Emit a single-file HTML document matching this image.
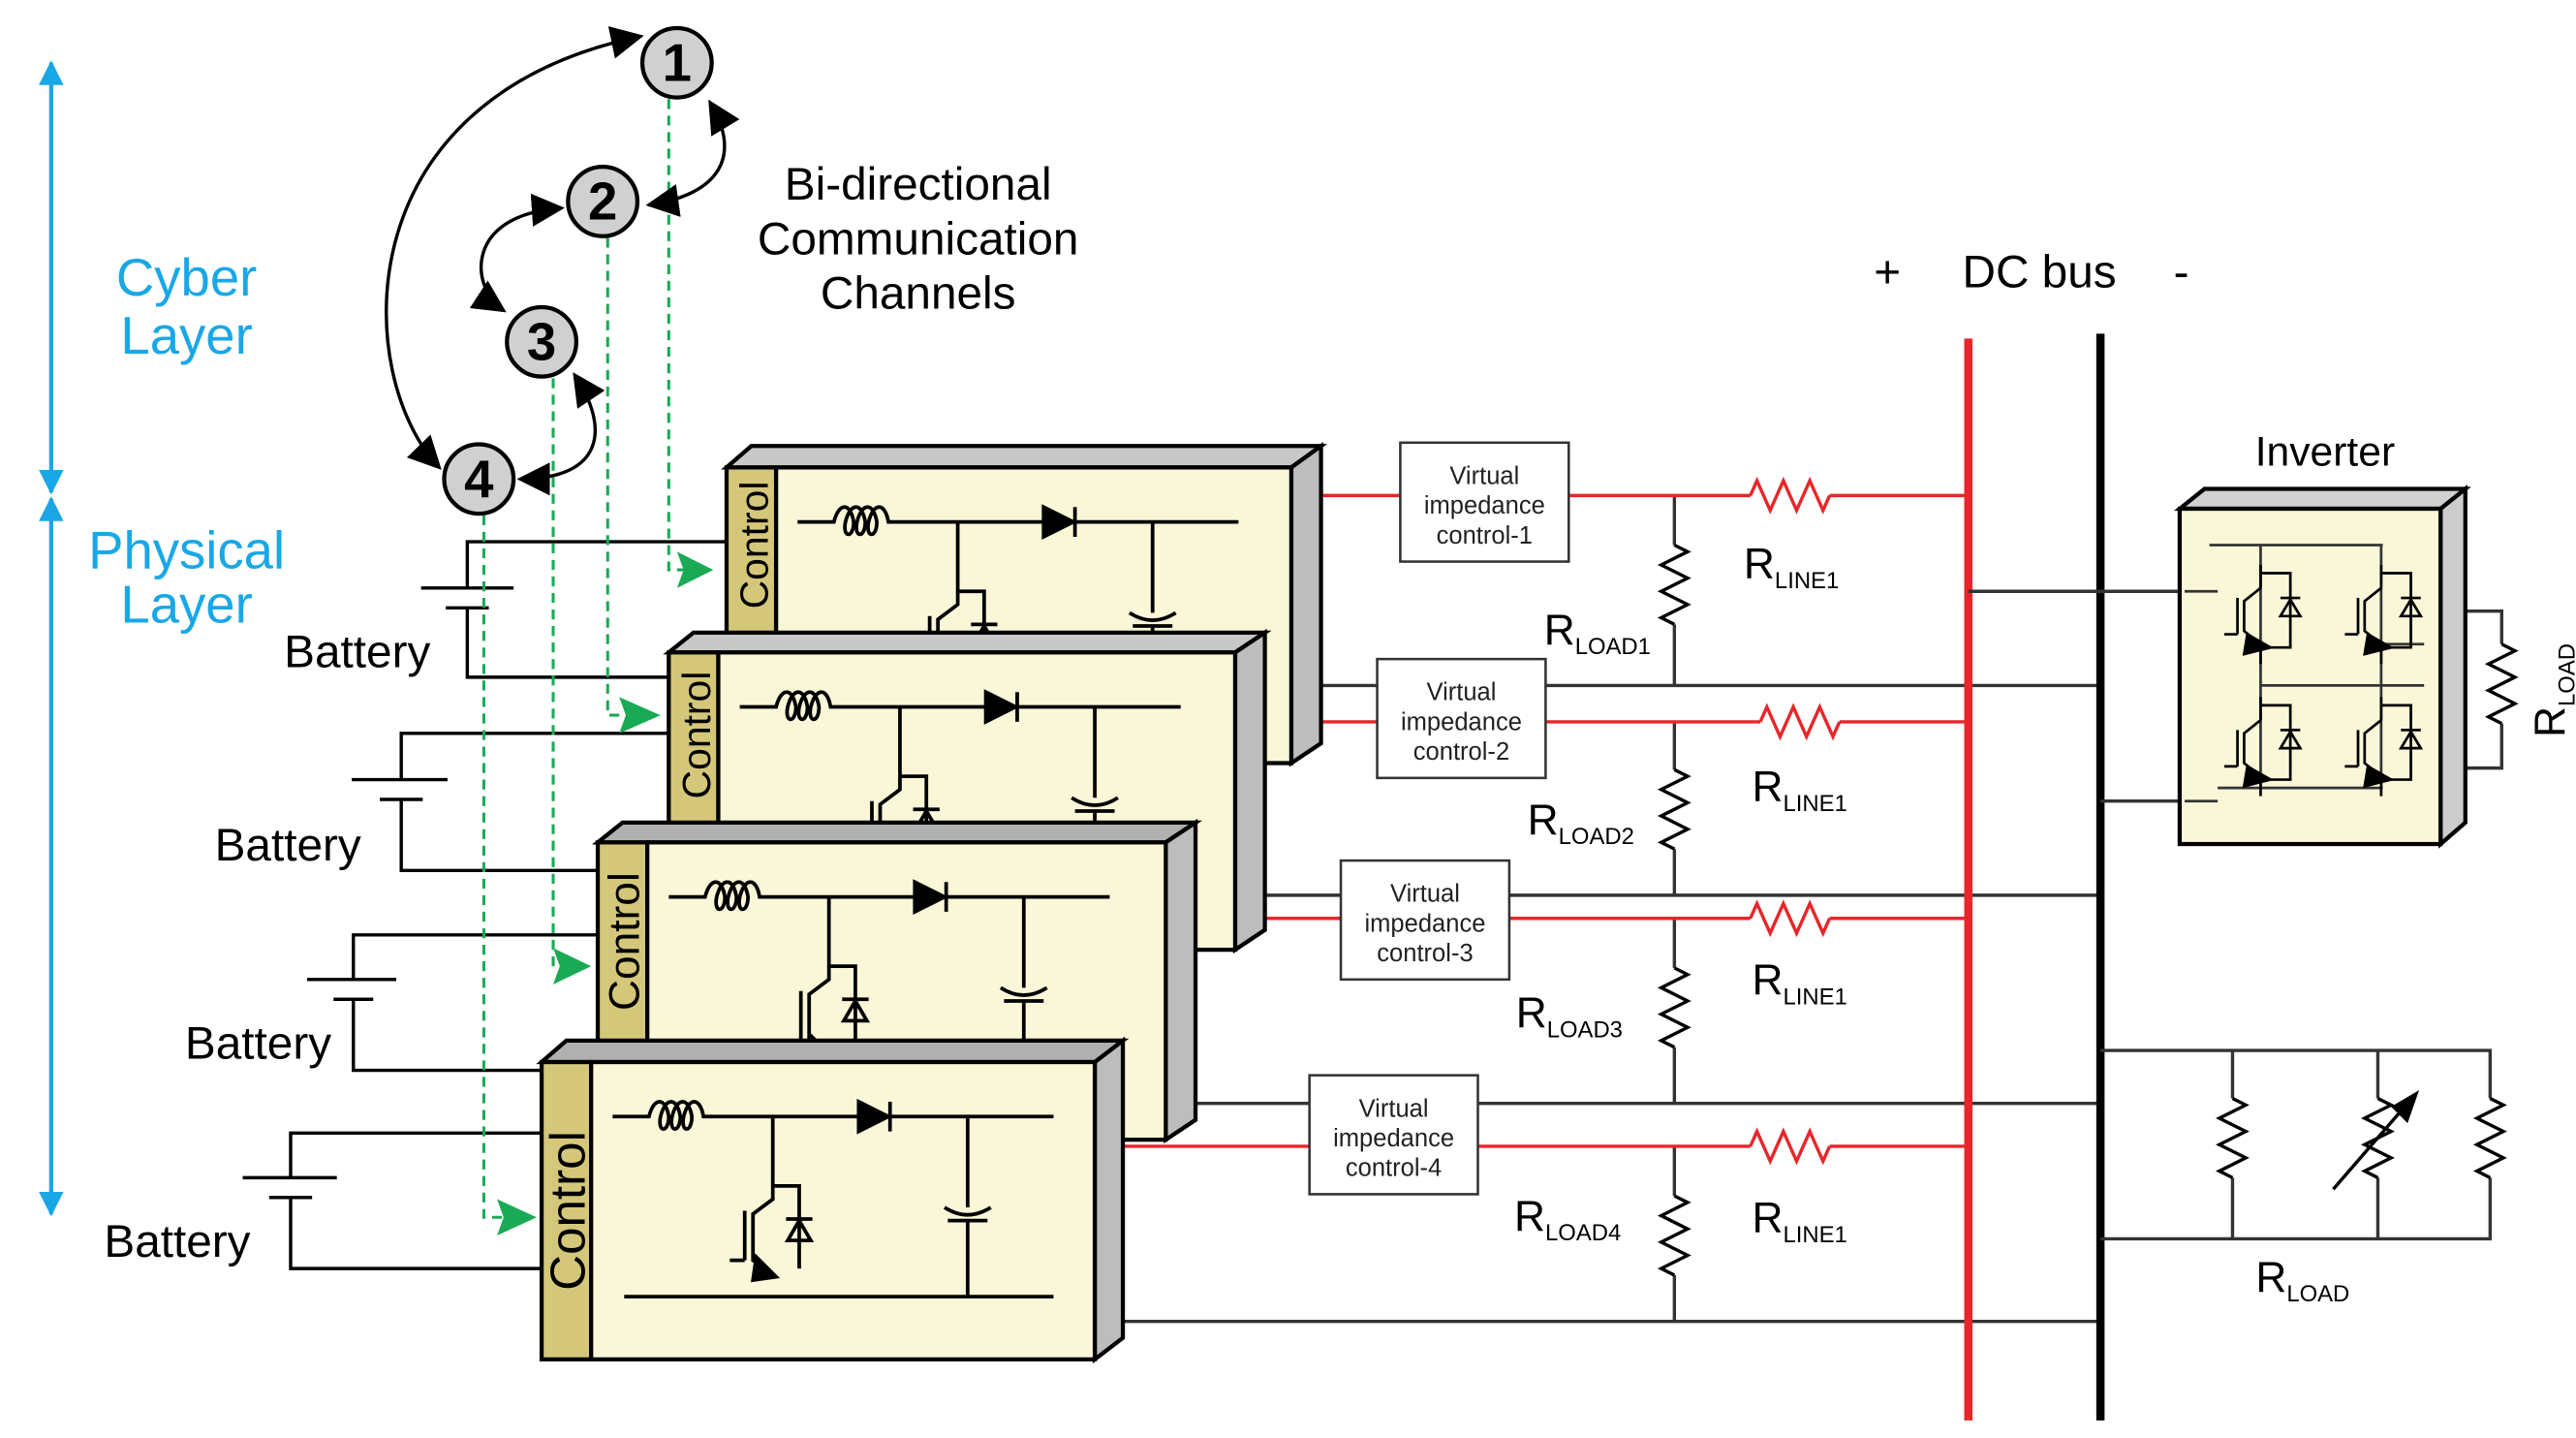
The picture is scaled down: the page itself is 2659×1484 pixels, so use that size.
<!DOCTYPE html>
<html><head><meta charset="utf-8"><style>
html,body{margin:0;padding:0;background:#fff;}
svg{display:block;}
text{font-family:"Liberation Sans",sans-serif;}
</style></head><body>
<svg width="2659" height="1484" viewBox="0 0 1560 870.6" preserveAspectRatio="none" xmlns="http://www.w3.org/2000/svg">
<defs>
<marker id="ah" viewBox="0 0 10 10" refX="9" refY="5" markerWidth="10" markerHeight="10" orient="auto-start-reverse"><path d="M0,0 L10,5 L0,10 z" fill="#000"/></marker>
<marker id="ab" viewBox="0 0 10 10" refX="9" refY="5" markerWidth="6" markerHeight="6" orient="auto-start-reverse"><path d="M0,0 L10,5 L0,10 z" fill="#1aa7e6"/></marker>
<g id="circ" fill="none" stroke="#000" stroke-width="2.2">
  <path d="M13 33 H35 c3,-12 10,-12 12,0 c0,10 -7,10 -5,0 c3,-12 10,-12 12,0 c0,10 -7,10 -5,0 c3,-12 10,-12 12,0 c0,10 -7,10 -5,0 c3,-12 10,-12 12,0 H162"/>
  <path d="M162 24 L180 33 L162 42 z" fill="#000"/>
  <path d="M181 24 V42 M181 33 H280"/>
  <path d="M110 33 V75 H126 V125 M110 75 V83 L98 92 V120 L110 128 M93 90 V120 M84 120 H93"/>
  <path d="M100 118 L112 130 L98 132 z" fill="#000"/>
  <path d="M118 95 H134 M119 108 L126 96 L133 108 z"/>
  <path d="M228 33 V88 M216 96 H240 M214 88 Q228 97 242 88 M228 96 V142 M20 142 H280"/>
</g>
<path id="zv" d="M0 0 l8 4 l-16 8 l16 8 l-16 8 l16 8 l-16 8 l8 4" fill="none" stroke="#000" stroke-width="2"/>
<path id="zh" d="M0 0 l4 -9 l8 18 l8 -18 l8 18 l8 -18 l8 18 l4 -9" fill="none" stroke="#e8262a" stroke-width="2"/>
<g id="ig" fill="none" stroke="#000" stroke-width="1.6">
  <path d="M20 0 V14 M20 14 L10 22 V40 L20 48 V60 M6 20 V42 M-2 42 H6 M20 5 H38 V50 H20"/>
  <path d="M32 20 H44 M32 31 L38 21 L44 31 z"/>
  <path d="M12 42 L26 50 L10 54 z" fill="#000"/>
</g>
</defs>

<line x1="31" y1="38" x2="31" y2="298" stroke="#1aa7e6" stroke-width="2.5" marker-start="url(#ab)" marker-end="url(#ab)"/>
<line x1="31" y1="302" x2="31" y2="735" stroke="#1aa7e6" stroke-width="2.5" marker-start="url(#ab)" marker-end="url(#ab)"/>
<text x="113" y="179" font-size="32" fill="#1aa7e6" text-anchor="middle">Cyber</text>
<text x="113" y="214" font-size="32" fill="#1aa7e6" text-anchor="middle">Layer</text>
<text x="113" y="344" font-size="32" fill="#1aa7e6" text-anchor="middle">Physical</text>
<text x="113" y="377" font-size="32" fill="#1aa7e6" text-anchor="middle">Layer</text>

<text x="556" y="121" font-size="28" text-anchor="middle">Bi-directional</text>
<text x="556" y="154" font-size="28" text-anchor="middle">Communication</text>
<text x="556" y="187" font-size="28" text-anchor="middle">Channels</text>

<g fill="none" stroke="#000" stroke-width="2">
<path d="M283 356 V328 H440 M255 356 H311 M270 368 H296 M283 368 V410 H405"/>
<path d="M243 472 V444 H405 M213 472 H271 M230 484 H256 M243 484 V527 H362"/>
<path d="M214 593 V566 H362 M186 593 H240 M202 605 H226 M214 605 V648 H328"/>
<path d="M176 713 V686 H328 M147 713 H204 M163 725 H189 M176 725 V768 H328"/>
</g>
<text x="172" y="404" font-size="28">Battery</text>
<text x="130" y="521" font-size="28">Battery</text>
<text x="112" y="641" font-size="28">Battery</text>
<text x="63" y="761" font-size="28">Battery</text>

<g stroke="#333" stroke-width="2" fill="none">
<path d="M790 415 H1272 M760 542 H1272 M720 668 H1272 M675 800 H1272"/>
<path d="M1014 300 V330 M1014 378 V415 M1014 437 V466 M1014 514 V542 M1014 556 V586 M1014 634 V668 M1014 694 V724 M1014 772 V800"/>
</g>
<use href="#zv" x="1014" y="330"/><use href="#zv" x="1014" y="466"/><use href="#zv" x="1014" y="586"/><use href="#zv" x="1014" y="724"/>
<g stroke="#e8262a" stroke-width="2" fill="none">
<path d="M790 300 H848 M950 300 H1060 M1108 300 H1192"/>
<path d="M760 437 H834 M936 437 H1066 M1114 437 H1192"/>
<path d="M720 556 H812 M914 556 H1060 M1108 556 H1192"/>
<path d="M675 694 H793 M895 694 H1060 M1108 694 H1192"/>
</g>
<use href="#zh" x="1060" y="300"/><use href="#zh" x="1066" y="437"/><use href="#zh" x="1060" y="556"/><use href="#zh" x="1060" y="694"/>

<g stroke="#000" stroke-width="2.5">
 <g>
  <path d="M440 283 L455 270 H800 L782 283 z" fill="#c8c8c8"/>
  <path d="M782 283 L800 270 V450 L782 462 z" fill="#bdbdbd"/>
  <rect x="440" y="283" width="30" height="179" fill="#d4c77a"/>
  <rect x="470" y="283" width="312" height="179" fill="#faf6d8"/>
  <use href="#circ" x="470" y="283"/>
 </g>
 <g>
  <path d="M405 395 L420 383 H766 L748 395 z" fill="#c8c8c8"/>
  <path d="M748 395 L766 383 V563 L748 575 z" fill="#bdbdbd"/>
  <rect x="405" y="395" width="30" height="180" fill="#d4c77a"/>
  <rect x="435" y="395" width="313" height="180" fill="#faf6d8"/>
  <use href="#circ" x="435" y="395"/>
 </g>
 <g>
  <path d="M362 510 L377 498 H724 L706 510 z" fill="#b0b0b0"/>
  <path d="M706 510 L724 498 V678 L706 690 z" fill="#bdbdbd"/>
  <rect x="362" y="510" width="30" height="180" fill="#d4c77a"/>
  <rect x="392" y="510" width="314" height="180" fill="#faf6d8"/>
  <use href="#circ" x="392" y="510"/>
 </g>
 <g>
  <path d="M328 643 L343 630 H680 L663 643 z" fill="#b0b0b0"/>
  <path d="M663 643 L680 630 V810 L663 823 z" fill="#bdbdbd"/>
  <rect x="328" y="643" width="30" height="180" fill="#d4c77a"/>
  <rect x="358" y="643" width="305" height="180" fill="#faf6d8"/>
  <use href="#circ" x="358" y="643"/>
 </g>
</g>
<text transform="translate(465,330) rotate(-90)" font-size="24" text-anchor="middle">Control</text>
<text transform="translate(430,445) rotate(-90)" font-size="24" text-anchor="middle">Control</text>
<text transform="translate(387,570) rotate(-90)" font-size="26" text-anchor="middle">Control</text>
<text transform="translate(354,733) rotate(-90)" font-size="30" text-anchor="middle">Control</text>

<g stroke="#1aaa55" stroke-width="1.8" fill="none" stroke-dasharray="6,4">
<path d="M405 60 V345 H420"/><path d="M368 144 V433 H385"/><path d="M335 229 V585 H343"/><path d="M293 312 V737 H305"/>
</g>
<g fill="#1aaa55">
<path d="M410 334 L432 345 L410 356 L414 345 z"/><path d="M375 422 L400 433 L375 444 L379 433 z"/>
<path d="M335 574 L358 585 L335 596 L339 585 z"/><path d="M301 726 L325 737 L301 748 L305 737 z"/>
</g>

<g fill="none" stroke="#000" stroke-width="2">
<path d="M266 283 C215 230 205 60 388 22" marker-start="url(#ah)" marker-end="url(#ah)"/>
<path d="M430 62 C450 95 435 118 393 124" marker-start="url(#ah)" marker-end="url(#ah)"/>
<path d="M340 126 C280 130 285 175 305 188" marker-start="url(#ah)" marker-end="url(#ah)"/>
<path d="M348 227 C370 260 365 290 315 290" marker-start="url(#ah)" marker-end="url(#ah)"/>
</g>
<g stroke="#000" stroke-width="2.5" fill="#d0d0d0">
<circle cx="410" cy="38" r="21"/><circle cx="365" cy="122" r="21"/><circle cx="328" cy="207" r="21"/><circle cx="290" cy="290" r="21"/>
</g>
<g font-size="32" font-weight="bold" text-anchor="middle">
<text x="410" y="49">1</text><text x="365" y="133">2</text><text x="328" y="218">3</text><text x="290" y="301">4</text>
</g>

<g fill="#fff" stroke="#333" stroke-width="1.5">
<rect x="848" y="268" width="102" height="72"/><rect x="834" y="399" width="102" height="72"/>
<rect x="812" y="521" width="102" height="72"/><rect x="793" y="651" width="102" height="72"/>
</g>
<g font-size="15" text-anchor="middle" fill="#222">
<text x="899" y="293">Virtual</text><text x="899" y="311">impedance</text><text x="899" y="329">control-1</text>
<text x="885" y="424">Virtual</text><text x="885" y="442">impedance</text><text x="885" y="460">control-2</text>
<text x="863" y="546">Virtual</text><text x="863" y="564">impedance</text><text x="863" y="582">control-3</text>
<text x="844" y="676">Virtual</text><text x="844" y="694">impedance</text><text x="844" y="712">control-4</text>
</g>

<g font-size="26">
<text x="935" y="390">R<tspan font-size="14" dy="6">LOAD1</tspan></text>
<text x="925" y="505">R<tspan font-size="14" dy="6">LOAD2</tspan></text>
<text x="918" y="622">R<tspan font-size="14" dy="6">LOAD3</tspan></text>
<text x="917" y="745">R<tspan font-size="14" dy="6">LOAD4</tspan></text>
<text x="1056" y="350">R<tspan font-size="14" dy="6">LINE1</tspan></text>
<text x="1061" y="485">R<tspan font-size="14" dy="6">LINE1</tspan></text>
<text x="1061" y="602">R<tspan font-size="14" dy="6">LINE1</tspan></text>
<text x="1061" y="746">R<tspan font-size="14" dy="6">LINE1</tspan></text>
<text x="1366" y="782">R<tspan font-size="14" dy="6">LOAD</tspan></text>
</g>

<text x="1143" y="174" font-size="28" text-anchor="middle">+</text>
<text x="1235" y="174" font-size="28" text-anchor="middle">DC bus</text>
<text x="1321" y="174" font-size="28" text-anchor="middle">-</text>
<line x1="1192" y1="205" x2="1192" y2="860" stroke="#e8262a" stroke-width="5"/>
<line x1="1272" y1="202" x2="1272" y2="860" stroke="#000" stroke-width="5"/>

<g stroke="#333" stroke-width="2" fill="none">
<path d="M1192 358 H1320 M1272 485 H1320"/>
<path d="M1493 370 H1515 V390 M1515 438 V465 H1493"/>
<path d="M1272 636 H1508 V665 M1508 713 V750 H1272 M1352 636 V665 M1352 713 V750 M1440 636 V665 M1440 713 V750"/>
</g>
<g transform="translate(1515,390)"><use href="#zv"/></g>
<g transform="translate(1508,665)"><use href="#zv"/></g>
<g transform="translate(1352,665)"><use href="#zv"/></g>
<g transform="translate(1440,665)"><use href="#zv"/></g>
<line x1="1413" y1="720" x2="1458" y2="668" stroke="#000" stroke-width="2"/>
<path d="M1465 660 L1448 670 L1458 680 z" fill="#000"/>
<text x="1408" y="282" font-size="25" text-anchor="middle">Inverter</text>
<text transform="translate(1553,418) rotate(-90)" font-size="26" text-anchor="middle">R<tspan font-size="14" dy="6">LOAD</tspan></text>
<g stroke="#000" stroke-width="2.5">
<path d="M1320 308 L1335 296 H1493 L1478 308 z" fill="#d0d0d0"/>
<path d="M1478 308 L1493 296 V498 L1478 511 z" fill="#cccccc"/>
<rect x="1320" y="308" width="158" height="203" fill="#faf6d8"/>
</g>
<g stroke="#333" stroke-width="1.6" fill="none">
<path d="M1338 330 H1443 M1343 477 H1443 M1323 358 H1343 M1323 485 H1343 M1369 330 V477 M1442 330 V477 M1369 415 H1468 M1442 390 H1468"/>
</g>
<use href="#ig" x="1349" y="342"/><use href="#ig" x="1422" y="342"/>
<use href="#ig" x="1349" y="422"/><use href="#ig" x="1422" y="422"/>
</svg>
</body></html>
